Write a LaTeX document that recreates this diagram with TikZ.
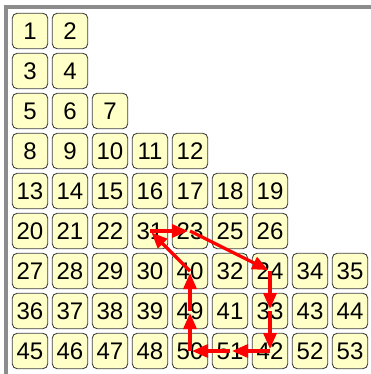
\documentclass[tikz,border=0pt]{standalone}
\usepackage{fontspec}
\setmainfont{Liberation Sans}
\usetikzlibrary{arrows.meta}
\definecolor{cellfill}{HTML}{FFFFC8}
\definecolor{celldraw}{HTML}{404040}
\definecolor{framegray}{HTML}{8C8C8C}
\begin{document}
\begin{tikzpicture}[x=1pt,y=-1pt,
  cell/.style={draw=celldraw, fill=cellfill, rounded corners=5pt, minimum width=35.5pt, minimum height=35.5pt, inner sep=0pt, font=\fontsize{24}{24}\selectfont, line width=0.9pt},
  flow/.style={draw=red, line width=3.2pt, shorten >=2pt, -{Triangle[length=16pt,width=13pt]}},
  framestyle/.style={draw=framegray, line width=4pt}]
\useasboundingbox (0,0) rectangle (371,374);
\draw[framestyle] (6,374) -- (6,7) -- (371,7);
\foreach \row [count=\r from 0] in {{1,2},{3,4},{5,6,7},{8,9,10,11,12},{13,14,15,16,17,18,19},{20,21,22,31,23,25,26},{27,28,29,30,40,32,24,34,35},{36,37,38,39,49,41,33,43,44},{45,46,47,48,50,51,42,52,53}} {
  \foreach \v [count=\c from 0] in \row {
    \node[cell] (n\v) at (30+40*\c, 31+40*\r) {\v};
  }
}
\draw[flow] (n31.center) -- (n23.center);
\draw[flow] (n23.center) -- (n24.center);
\draw[flow] (n24.center) -- (n33.center);
\draw[flow] (n33.center) -- (n42.center);
\draw[flow] (n42.center) -- (n51.center);
\draw[flow] (n51.center) -- (n50.center);
\draw[flow] (n50.center) -- (n49.center);
\draw[flow] (n49.center) -- (n40.center);
\draw[flow] (n40.center) -- (n31.center);
\end{tikzpicture}
\end{document}
